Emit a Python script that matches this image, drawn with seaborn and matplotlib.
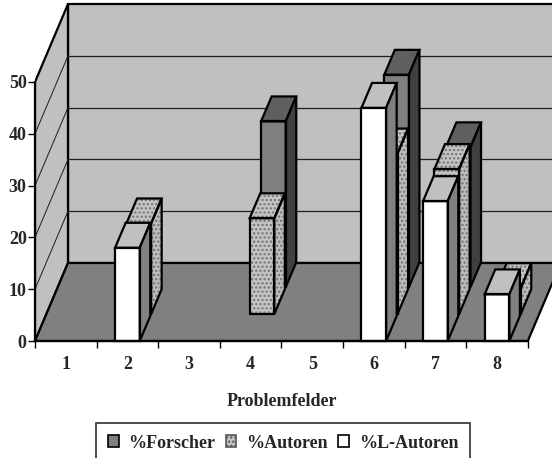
import numpy as np
import pandas as pd
import matplotlib
matplotlib.use("Agg")
import matplotlib.pyplot as plt
from matplotlib.patches import Polygon, Rectangle, Patch
import seaborn as sns

# ---- data -------------------------------------------------------------
categories = ["1", "2", "3", "4", "5", "6", "7", "8"]
series_names = ["%Forscher", "%Autoren", "%L-Autoren"]
forscher = [0, 0, 0, 32, 0, 41, 27, 0]
autoren = [0, 17.5, 0, 18.5, 0, 31, 28, 5]
l_autoren = [0, 18, 0, 0, 0, 45, 27, 9]
y_ticks = [0, 10, 20, 30, 40, 50]
x_label = "Problemfelder"

# ---- style ------------------------------------------------------------
sns.set_theme(style="white")
plt.rcParams["font.family"] = ["Liberation Serif", "DejaVu Serif"]
plt.rcParams["font.weight"] = "bold"
plt.rcParams["hatch.linewidth"] = 1.1
FS = 13

# ---- layout (pixels) --------------------------------------------------
W, H = 552, 458
fig = plt.figure(figsize=(W / 100, H / 100), dpi=100)
fig.patch.set_facecolor("white")
left_px, right_px, top_px, bottom_px = 35, 552, 0, 352
cat_px, val_px, zero_px = 61.6, 5.18, 341
ax = fig.add_axes([left_px / W, 1 - bottom_px / H,
                   (right_px - left_px) / W, (bottom_px - top_px) / H])
ax.set_facecolor("none")

# oblique depth vector (category units, value units)
DX = 33 / cat_px
DY = 78 / val_px
ROW = 0.345          # depth step between series rows
BAR_D = 0.32         # depth of one bar
BAR_W = 0.4          # bar width in category units

n = len(categories)
x0, x1 = -0.5, n - 0.5
ymax = y_ticks[-1]


def proj(x, y, d):
    return (x + d * DX, y + d * DY)


EDGE = "black"
THICK = 1.6
THIN = 0.9

# ---- walls and floor --------------------------------------------------
side = [proj(x0, 0, 0), proj(x0, 0, 1), proj(x0, ymax, 1), proj(x0, ymax, 0)]
back = [proj(x0, 0, 1), proj(x1 + 1, 0, 1), proj(x1 + 1, ymax, 1), proj(x0, ymax, 1)]
floor = [proj(x0, 0, 0), proj(x1, 0, 0), proj(x1, 0, 1), proj(x0, 0, 1)]
ax.add_patch(Polygon(back, closed=True, fc="#c0c0c0", ec=EDGE, lw=THICK, zorder=1))
ax.add_patch(Polygon(side, closed=True, fc="#c0c0c0", ec=EDGE, lw=THICK, zorder=1))
for v in y_ticks[1:-1]:
    bx, by = zip(proj(x0, v, 1), proj(x1 + 1, v, 1))
    ax.plot(bx, by, color="#202020", lw=THIN, zorder=1.5)
    sx, sy = zip(proj(x0, v, 0), proj(x0, v, 1))
    ax.plot(sx, sy, color="#202020", lw=THIN * 0.8, zorder=1.5)
ax.add_patch(Polygon(floor, closed=True, fc="#808080", ec=EDGE, lw=THICK, zorder=2))

# ---- bars (back row first) --------------------------------------------
styles = {
    "%Forscher": dict(front="#808080", top="#5f5f5f", side="#404040", hatch=None),
    "%Autoren": dict(front="#c4c4c4", top="#c4c4c4", side="#bcbcbc", hatch="...."),
    "%L-Autoren": dict(front="#ffffff", top="#c0c0c0", side="#808080", hatch=None),
}
rows = [("%Forscher", forscher, 2), ("%Autoren", autoren, 1), ("%L-Autoren", l_autoren, 0)]

for name, values, r in rows:
    st = styles[name]
    d0 = r * ROW
    z = 10 + (2 - r) * 10
    frame = pd.DataFrame({"pos": np.arange(n) + d0 * DX, "value": values})
    before = len(ax.patches)
    kw = dict(linewidth=0)
    if st["hatch"]:
        kw.update(hatch=st["hatch"], edgecolor="#747474")
    sns.barplot(data=frame, x="pos", y="value", native_scale=True, width=BAR_W,
                color=st["front"], saturation=1, errorbar=None, bottom=d0 * DY,
                zorder=z, ax=ax, **kw)
    bars = ax.patches[before:]
    for p in bars:
        bx, by, bw, bh = p.get_x(), p.get_y(), p.get_width(), p.get_height()
        if bh <= 0:
            p.set_visible(False)
            continue
        ex, ey = BAR_D * DX, BAR_D * DY
        top = [(bx, by + bh), (bx + bw, by + bh), (bx + bw + ex, by + bh + ey), (bx + ex, by + bh + ey)]
        sd = [(bx + bw, by), (bx + bw + ex, by + ey), (bx + bw + ex, by + bh + ey), (bx + bw, by + bh)]
        for poly, col in ((top, st["top"]), (sd, st["side"])):
            if st["hatch"]:
                ax.add_patch(Polygon(poly, closed=True, fc=col, ec="#747474", lw=0,
                                     hatch=st["hatch"], zorder=z))
                ax.add_patch(Polygon(poly, closed=True, fill=False, ec=EDGE, lw=THICK,
                                     joinstyle="miter", zorder=z + 0.5))
            else:
                ax.add_patch(Polygon(poly, closed=True, fc=col, ec=EDGE, lw=THICK,
                                     joinstyle="miter", zorder=z))
        ax.add_patch(Rectangle((bx, by), bw, bh, fill=False, ec=EDGE, lw=THICK,
                               joinstyle="miter", zorder=z + 0.5))

# ---- axes -------------------------------------------------------------
ax.set_xlim(x0, x0 + (right_px - left_px) / cat_px)
ax.set_ylim(-(bottom_px - zero_px) / val_px, (zero_px - top_px) / val_px)
for s in ("top", "right"):
    ax.spines[s].set_visible(False)
ax.spines["bottom"].set_position(("data", 0))
ax.spines["bottom"].set_bounds(x0, x1)
ax.spines["left"].set_bounds(0, ymax)
for s in ("bottom", "left"):
    ax.spines[s].set_color(EDGE)
    ax.spines[s].set_linewidth(THICK)
    ax.spines[s].set_zorder(50)

ax.set_yticks(y_ticks)
ax.set_yticklabels([str(v) for v in y_ticks], fontsize=FS, fontweight="bold")
ax.set_xticks(np.arange(n))
ax.set_xticklabels(categories, fontsize=FS, fontweight="bold")
ax.set_xticks(np.arange(n + 1) - 0.5, minor=True)
ax.tick_params(axis="x", which="major", length=0, pad=11)
ax.tick_params(axis="x", which="minor", length=5, width=1, color=EDGE, direction="out")
ax.tick_params(axis="y", length=5, width=1, color=EDGE, direction="out", pad=1)
ax.tick_params(bottom=True, left=True, which="both")
ax.set_xlabel("")
ax.set_ylabel("")
fig.text((left_px + cat_px * 4) / W, 1 - 401 / H, x_label, ha="center", va="center",
         fontsize=FS, fontweight="bold")

# ---- legend -----------------------------------------------------------
handles = [
    Patch(facecolor=styles["%Forscher"]["front"], edgecolor=EDGE, linewidth=1.2),
    Patch(facecolor=styles["%Autoren"]["front"], edgecolor="#555555", hatch="....", linewidth=1.2),
    Patch(facecolor=styles["%L-Autoren"]["front"], edgecolor=EDGE, linewidth=1.2),
]
leg = fig.legend(handles, series_names, loc="center", ncol=3,
                 bbox_to_anchor=(283 / W, 1 - 443 / H), frameon=False,
                 fontsize=FS, handlelength=0.6, handleheight=0.6, handletextpad=0.55,
                 columnspacing=0.55, borderpad=0.2, borderaxespad=0)
# legend box, running off the lower edge of the figure
fig.patches.append(Rectangle((96 / W, -0.02), (470 - 96) / W, 1 - 423 / H + 0.02,
                             transform=fig.transFigure, fill=False, ec="#303030",
                             lw=1.2, zorder=5))

fig.savefig("out.png", dpi=100)
